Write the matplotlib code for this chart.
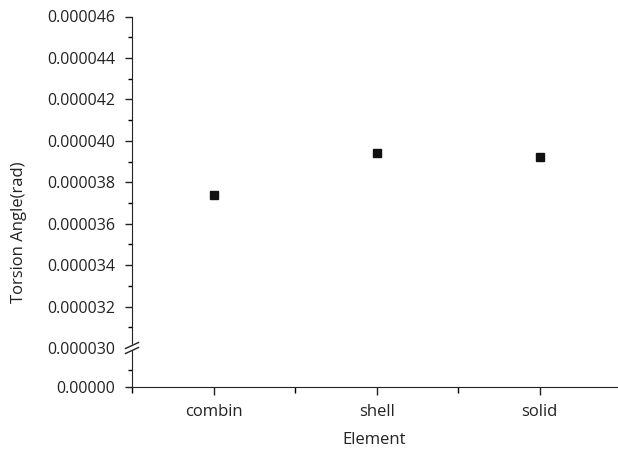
import numpy as np
import matplotlib.pyplot as plt
from matplotlib.ticker import FixedLocator, FuncFormatter

plt.rcParams['font.family'] = ['Open Sans', 'DejaVu Sans']
plt.rcParams['font.size'] = 11.5
plt.rcParams['text.color'] = '#222222'

# data
elements = ['combin', 'shell', 'solid']
torsion_angle = [0.00003737, 0.00003942, 0.00003921]
y_ticks_top = [0.000030, 0.000032, 0.000034, 0.000036, 0.000038,
               0.000040, 0.000042, 0.000044, 0.000046]

fig = plt.figure(figsize=(6.18, 4.51), dpi=100)
W, H = 618, 451
left, right = 132 / W, 1.0
y_top, y_break, y_bot = 1 - 16.5 / H, 1 - 348 / H, 1 - 387 / H

ax = fig.add_axes([left, y_break, right - left, y_top - y_break])
axb = fig.add_axes([left, y_bot, right - left, y_break - y_bot])

x = np.arange(1, len(elements) + 1)
ax.plot(x, torsion_angle, ls='none', marker='s', ms=5.8, color='#111111')

xlim = (0.5, 3.48)
for a in (ax, axb):
    a.set_xlim(*xlim)
    a.patch.set_alpha(0)
    for s in ('top', 'right'):
        a.spines[s].set_visible(False)
    a.spines['left'].set_color('#222222')
    a.spines['bottom'].set_color('#222222')
    a.tick_params(colors='#222222', labelcolor='#222222')

# upper part of the broken y axis
ax.set_ylim(0.000030, 0.000046)
ax.yaxis.set_major_locator(FixedLocator(y_ticks_top))
ax.yaxis.set_minor_locator(FixedLocator(np.arange(0.000031, 0.000046, 0.000002)))
ax.yaxis.set_major_formatter(FuncFormatter(lambda v, p: f'{v:.6f}'))
ax.tick_params(axis='y', which='major', length=5, width=1, labelsize=11.5, pad=7)
ax.tick_params(axis='y', which='minor', length=3, width=1)
ax.spines['bottom'].set_visible(False)
ax.set_xticks([])

# lower part, down to zero
axb.set_ylim(0, 0.0000023)
axb.yaxis.set_major_locator(FixedLocator([0]))
axb.yaxis.set_minor_locator(FixedLocator([0.000001]))
axb.yaxis.set_major_formatter(FuncFormatter(lambda v, p: '0.00000'))
axb.tick_params(axis='y', which='major', length=5, width=1, labelsize=11.5, pad=7)
axb.tick_params(axis='y', which='minor', length=3, width=1)

axb.set_xticks(x)
axb.set_xticklabels(elements)
axb.xaxis.set_minor_locator(FixedLocator([0.5, 1.5, 2.5, 3.5]))
axb.tick_params(axis='x', which='major', length=6, width=1, labelsize=12, pad=6)
axb.tick_params(axis='x', which='minor', length=4, width=1)

fig.text(374 / W, 1 - 440 / H, 'Element', ha='center', va='center', fontsize=12)
fig.text(19 / W, 1 - 232 / H, 'Torsion Angle(rad)', rotation=90,
         ha='center', va='center', fontsize=12)

# break marks on the y axis
bx, by = 132 / W, y_break
dx, dy, gap = 6.5 / W, 3 / H, 5 / H
fig.patches.append(plt.Polygon(
    [[bx - dx, by - dy - gap / 2], [bx + dx, by + dy - gap / 2],
     [bx + dx, by + dy + gap / 2], [bx - dx, by - dy + gap / 2]],
    closed=True, transform=fig.transFigure, color='white', zorder=5))
for off in (-gap / 2, gap / 2):
    fig.add_artist(plt.Line2D([bx - dx, bx + dx], [by - dy + off, by + dy + off],
                              transform=fig.transFigure, color='#222222', lw=1, zorder=6))

fig.savefig('out.png', dpi=100)
